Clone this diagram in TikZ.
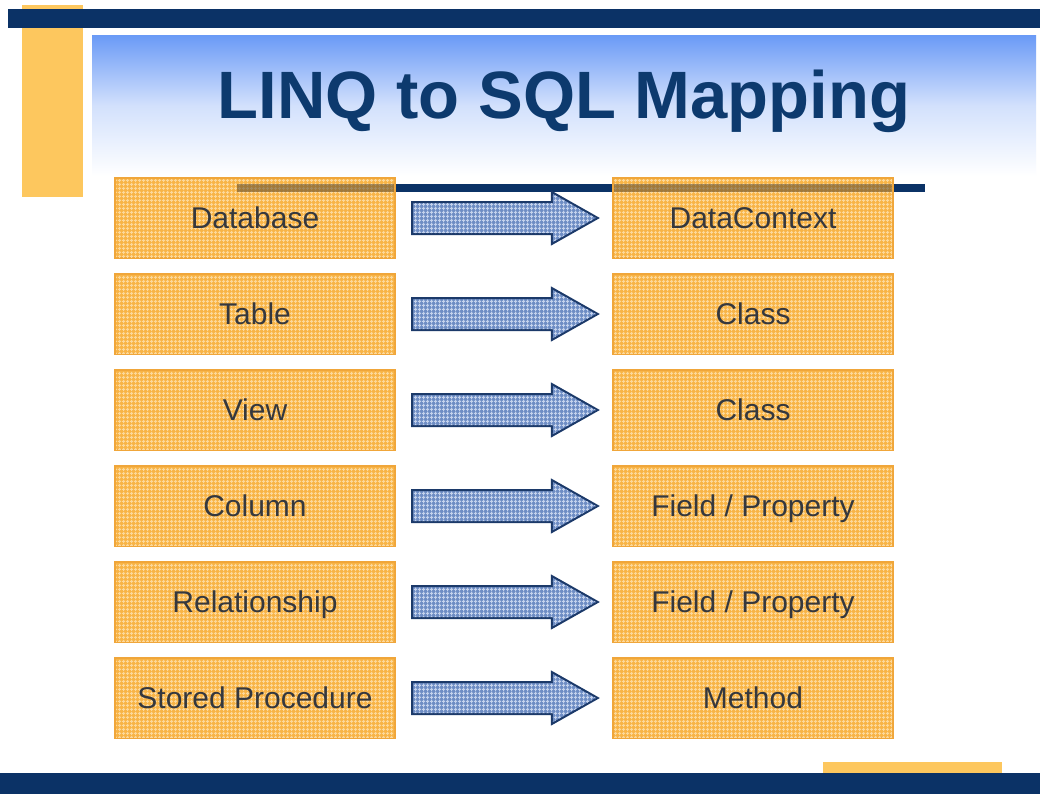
\documentclass[tikz,border=0pt]{standalone}
\usepackage{fontspec}
\setmainfont{Liberation Sans}
\usetikzlibrary{calc,patterns.meta}
\definecolor{navy}{HTML}{0B3266}
\definecolor{titleblue}{HTML}{0D3A6E}
\definecolor{sideorange}{HTML}{FDC75E}
\definecolor{boxfill}{HTML}{F8B446}
\definecolor{boxgrid}{HTML}{FCD89A}
\definecolor{boxline}{HTML}{F0A63A}
\definecolor{arrowfill}{HTML}{6E8DC4}
\definecolor{arrowgrid}{HTML}{C4D2EC}
\definecolor{arrowline}{HTML}{1C3A6A}
\definecolor{panelblue}{HTML}{6A9AF6}
\definecolor{labelgray}{HTML}{35383E}
\definecolor{rulethrough}{HTML}{5A4A30}
\tikzset{
  mapbox/.style={rectangle, minimum width=280pt, minimum height=80pt,
    inner sep=0pt, text=labelgray, font=\fontsize{30}{36}\selectfont,
    text height=21.5pt, text depth=0pt},
  boxpaint/.style={draw=boxline, line width=1.5pt, fill=boxfill},
  boxtexture/.style={pattern={Hatch[distance=4pt,angle=0,line width=1.2pt]},
    pattern color=boxgrid},
  arrowpaint/.style={draw=arrowline, line width=2pt, fill=arrowfill, line join=miter},
  arrowtexture/.style={pattern={Hatch[distance=4pt,angle=0,line width=1.2pt]},
    pattern color=arrowgrid},
}
\begin{document}
\begin{tikzpicture}[x=1pt,y=-1pt]
\useasboundingbox (0,0) rectangle (1040,796);
\fill[white] (0,0) rectangle (1040,796);

% title panel with fading blue band
\shade[top color=panelblue, bottom color=white, middle color=panelblue!30!white]
  (92,35) rectangle (1036,176);

% top decoration: orange upright and navy bar
\fill[sideorange] (22,5) rectangle (83,197);
\fill[navy] (8,9) rectangle (1040,28);

\node[text=titleblue, font=\fontsize{67}{72}\selectfont\bfseries] (title)
  at (564,101) {LINQ to SQL Mapping};

% navy rule under the title
\fill[navy] (237,184) rectangle (925,192);

% rows of mappings
\foreach \i/\l/\r in {0/Database/DataContext, 1/Table/Class, 2/View/Class,
    3/Column/{Field / Property}, 4/Relationship/{Field / Property},
    5/Stored Procedure/Method}{
  \pgfmathsetmacro{\yy}{218+96*\i}
  \path[boxpaint] (115,\yy-40) rectangle (395,\yy+40);
  \path[boxtexture] (116,\yy-39) rectangle (394,\yy+39);
  \path[boxpaint] (613,\yy-40) rectangle (893,\yy+40);
  \path[boxtexture] (614,\yy-39) rectangle (892,\yy+39);
  \node[mapbox] (L\i) at (255,\yy) {\l};
  \node[mapbox] (R\i) at (753,\yy) {\r};
  % block arrow from the source box to the target box
  \coordinate (s\i) at ($(L\i.east)+(17,0)$);
  \coordinate (t\i) at ($(R\i.west)+(-15,0)$);
  \path[arrowpaint]
    ($(s\i)+(0,-16)$) -- ($(t\i)+(-46,-16)$) -- ($(t\i)+(-46,-26)$) -- (t\i)
    -- ($(t\i)+(-46,26)$) -- ($(t\i)+(-46,16)$) -- ($(s\i)+(0,16)$) -- cycle;
  \path[arrowtexture]
    ($(s\i)+(1,-15)$) -- ($(t\i)+(-45,-15)$) -- ($(t\i)+(-45,-24)$) -- ($(t\i)+(-2,0)$)
    -- ($(t\i)+(-45,24)$) -- ($(t\i)+(-45,15)$) -- ($(s\i)+(1,15)$) -- cycle;
}

% the rule shows faintly through the first pair of boxes
\fill[rulethrough, opacity=0.55] (237,184) rectangle (394,192);
\fill[rulethrough, opacity=0.55] (614,184) rectangle (892,192);

% bottom decoration: orange tab behind the navy bar
\fill[sideorange] (823,762) rectangle (1002,790);
\fill[navy] (0,773) rectangle (1040,794);
\end{tikzpicture}
\end{document}
